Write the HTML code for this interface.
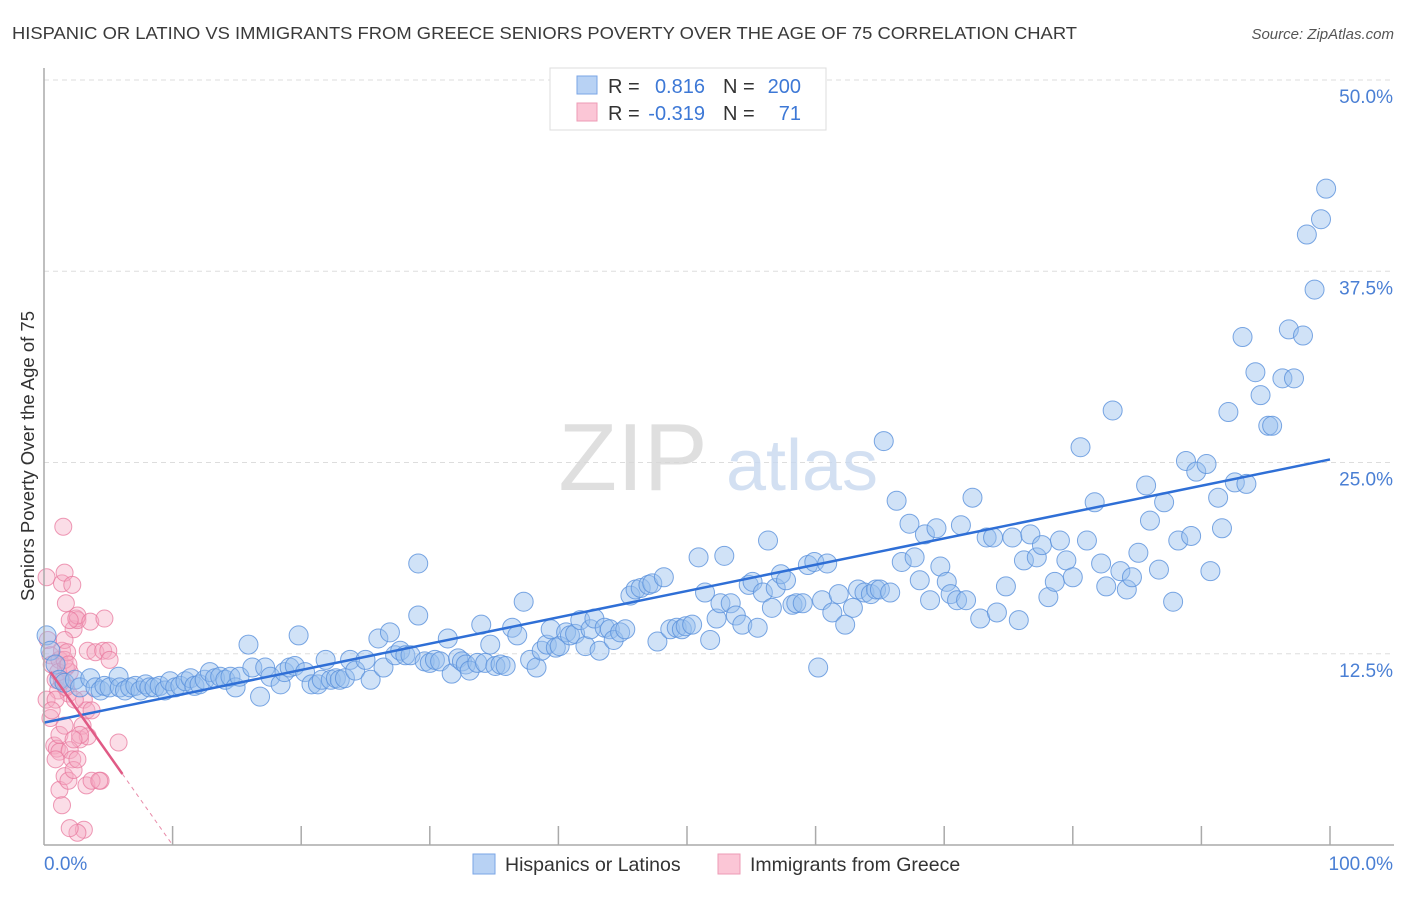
<!DOCTYPE html>
<html><head><meta charset="utf-8"><style>
body{margin:0;background:#fff;font-family:"Liberation Sans",sans-serif;}
svg text{font-family:"Liberation Sans",sans-serif;}
</style></head><body>
<svg id="chart" width="1406" height="892" viewBox="0 0 1406 892">
<text x="12" y="39" font-size="17.5" fill="#3a3a3a" textLength="1065" lengthAdjust="spacingAndGlyphs">HISPANIC OR LATINO VS IMMIGRANTS FROM GREECE SENIORS POVERTY OVER THE AGE OF 75 CORRELATION CHART</text>
<text x="1394" y="39" font-size="15" fill="#555" font-style="italic" text-anchor="end">Source: ZipAtlas.com</text>
<g id="grid"></g>
<g><text x="633" y="490" font-size="96" fill="#d8d8d8" font-family="Liberation Serif" text-anchor="middle" opacity="0.8">ZIP</text><text x="802" y="490" font-size="72" fill="#c9d9f0" text-anchor="middle" opacity="0.8">atlas</text></g>
<g id="pinkpts"></g>
<g id="bluepts"></g>
<g id="lines"></g>
<g id="axes"></g>
<text transform="translate(34,456) rotate(-90)" font-size="18.5" fill="#333" text-anchor="middle">Seniors Poverty Over the Age of 75</text>
<g>
<rect x="550" y="68" width="276" height="62" fill="#fff" stroke="#ddd"/>
<rect x="577" y="76" width="20" height="18" fill="#b8d2f4" stroke="#7aa5e6"/>
<rect x="577" y="103" width="20" height="18" fill="#fbc6d6" stroke="#ee9bb5"/>
<text x="608" y="93" font-size="20" fill="#333">R =</text><text x="705" y="93" font-size="20" fill="#3d78d6" text-anchor="end">0.816</text>
<text x="723" y="93" font-size="20" fill="#333">N =</text><text x="801" y="93" font-size="20" fill="#3d78d6" text-anchor="end">200</text>
<text x="608" y="120" font-size="20" fill="#333">R =</text><text x="705" y="120" font-size="20" fill="#3d78d6" text-anchor="end">-0.319</text>
<text x="723" y="120" font-size="20" fill="#333">N =</text><text x="801" y="120" font-size="20" fill="#3d78d6" text-anchor="end">71</text>
</g>
<g>
<rect x="473" y="854" width="22" height="20" fill="#b8d2f4" stroke="#7aa5e6"/>
<text x="505" y="871" font-size="19.5" fill="#333">Hispanics or Latinos</text>
<rect x="718" y="854" width="22" height="20" fill="#fbc6d6" stroke="#ee9bb5"/>
<text x="750" y="871" font-size="19.5" fill="#333">Immigrants from Greece</text>
</g>
</svg>
<script>
const blueX=[0.2,0.5,0.9,1.2,1.6,2.4,2.8,3.6,4.0,4.4,4.7,5.1,5.8,5.9,6.3,6.7,7.1,7.5,7.9,8.2,8.6,9.0,9.4,9.8,10.2,10.6,11.0,11.4,11.7,12.1,12.5,12.9,13.3,13.7,14.1,14.5,14.9,15.2,15.9,16.2,16.8,17.2,17.6,18.4,18.7,19.1,19.5,19.8,20.3,20.8,21.3,21.6,21.9,22.3,22.7,23.0,23.4,23.8,24.2,25.0,25.4,26.0,26.4,26.9,27.3,27.7,28.1,28.5,29.1,29.1,29.6,30.0,30.4,30.8,31.4,31.7,32.2,32.5,32.8,33.1,33.7,34.0,34.3,34.7,35.1,35.5,35.9,36.4,36.8,37.3,37.8,38.3,38.7,39.1,39.4,39.8,40.1,40.6,40.9,41.3,41.7,42.1,42.5,42.8,43.2,43.6,44.0,44.3,44.8,45.2,45.6,46.0,46.4,47.0,47.3,47.7,48.2,48.7,49.2,49.6,49.9,50.4,50.9,51.4,51.8,52.3,52.6,52.9,53.4,53.8,54.3,54.8,55.1,55.5,55.9,56.3,56.6,56.9,57.3,57.7,58.2,58.5,59.0,59.4,59.9,60.2,60.5,60.9,61.3,61.8,62.3,62.9,63.3,63.8,64.3,64.7,65.0,65.3,65.8,66.3,66.7,67.3,67.7,68.1,68.5,68.9,69.4,69.7,70.2,70.5,71.0,71.3,71.7,72.2,72.8,73.3,73.8,74.1,74.8,75.3,75.8,76.2,76.7,77.2,77.6,78.1,78.6,79.0,79.5,80.0,80.6,81.1,81.7,82.2,82.6,83.1,83.7,84.2,84.6,85.1,85.7,86.0,86.7,87.1,87.8,88.2,88.8,89.2,89.6,90.4,90.7,91.3,91.6,92.1,92.6,93.2,93.5,94.2,94.6,95.2,95.5,96.3,96.8,97.2,97.9,98.2,98.8,99.3,99.7];
const blueY=[13.7,12.7,11.8,10.8,10.6,10.8,10.3,10.9,10.3,10.1,10.4,10.3,11.0,10.3,10.1,10.3,10.4,10.1,10.5,10.3,10.3,10.4,10.1,10.7,10.3,10.4,10.7,10.9,10.4,10.5,10.8,11.3,10.9,11.0,10.8,11.0,10.3,11.0,13.1,11.6,9.7,11.6,11.0,10.5,11.3,11.6,11.7,13.7,11.3,10.5,10.5,10.8,12.1,10.8,10.9,10.8,10.9,12.1,11.4,12.1,10.8,13.5,11.6,13.9,12.4,12.7,12.4,12.4,18.4,15.0,12.0,11.9,12.1,12.0,13.5,11.2,12.2,12.0,11.8,11.4,11.9,14.4,11.9,13.1,11.7,11.8,11.7,14.2,13.7,15.9,12.1,11.6,12.7,13.1,14.1,12.9,13.0,13.9,13.7,13.8,14.7,13.0,14.1,14.8,12.7,14.2,14.1,13.4,13.9,14.1,16.3,16.7,16.8,17.0,17.1,13.3,17.5,14.1,14.2,14.1,14.3,14.4,18.8,16.5,13.4,14.8,15.8,18.9,15.8,15.0,14.4,17.0,17.2,14.2,16.5,19.9,15.5,16.8,17.7,17.3,15.7,15.8,15.8,18.3,18.5,11.6,16.0,18.4,15.2,16.4,14.4,15.5,16.7,16.5,16.4,16.7,16.7,26.4,16.5,22.5,18.5,21.0,18.8,17.3,20.3,16.0,20.7,18.2,17.2,16.4,16.0,20.9,16.0,22.7,14.8,20.1,20.1,15.2,16.9,20.1,14.7,18.6,20.3,18.8,19.6,16.2,17.2,19.9,18.6,17.5,26.0,19.9,22.4,18.4,16.9,28.4,17.9,16.7,17.5,19.1,23.5,21.2,18.0,22.4,15.9,19.9,25.1,20.2,24.4,24.9,17.9,22.7,20.7,28.3,23.7,33.2,23.6,30.9,29.4,27.4,27.4,30.5,33.7,30.5,33.3,39.9,36.3,40.9,42.9];
const pinkX=[0.2,0.3,0.5,0.6,0.9,1.1,0.2,0.5,0.8,1.0,1.2,1.4,1.5,1.6,1.7,2.0,2.2,2.3,2.5,2.6,2.8,3.0,3.1,3.3,3.4,1.2,1.4,1.6,1.7,1.9,0.9,0.6,1.2,1.4,1.6,1.9,2.0,2.2,2.3,2.6,2.8,3.3,3.4,3.6,3.7,4.0,4.4,4.6,4.7,5.0,5.1,5.8,2.4,2.0,1.7,1.1,1.4,1.6,1.8,1.9,3.1,2.6,1.2,2.0,3.7,4.3,0.9,1.6,2.3,2.6];
const pinkY=[17.5,13.4,12.4,11.8,10.8,10.1,9.5,8.3,6.5,6.3,6.1,17.1,20.8,17.8,15.8,11.3,17.0,14.1,14.8,14.7,6.9,7.8,9.5,8.8,7.1,12.1,12.7,13.4,11.6,9.9,9.5,8.8,3.6,2.6,4.5,4.2,6.2,5.6,4.9,15.0,7.2,3.9,12.7,14.6,8.8,12.6,4.2,12.7,14.8,12.7,12.1,6.7,9.5,14.7,10.3,11.3,10.7,12.1,12.6,11.8,1.0,0.8,7.2,1.1,4.2,4.2,5.6,7.8,6.9,5.6];
const yTicks=[12.5,25,37.5,50];
const yTickLabels=["12.5%","25.0%","37.5%","50.0%"];
const xTicks=[0,10,20,30,40,50,60,70,80,90,100];
const blueTrend=[8.0,25.2];
const pinkTrend=[11.9,0];
const pinkSolidEnd=6.1;

const NS="http://www.w3.org/2000/svg";
const X0=44,X1=1330,Y0=845,Y50=80;
const sx=v=>X0+(X1-X0)*v/100;
const sy=v=>Y0-(Y0-Y50)*v/50;
function mk(tag,attrs,parent){const e=document.createElementNS(NS,tag);for(const k in attrs)e.setAttribute(k,attrs[k]);parent.appendChild(e);return e;}
const grid=document.getElementById('grid');
yTicks.forEach((t,i)=>{
  const l=mk('line',{x1:X0,x2:1394,y1:sy(t),y2:sy(t),stroke:'#ddd','stroke-dasharray':'5,4'},grid);
  
  
  const tx=mk('text',{x:1393,y:sy(t)+23,'font-size':19,fill:'#4a7fd4','text-anchor':'end'},grid);
  tx.textContent=yTickLabels[i];
  
  
});
const axes=document.getElementById('axes');
mk('line',{x1:X0,x2:X0,y1:68,y2:Y0,stroke:'#aaa','stroke-width':1.5},axes);
mk('line',{x1:X0,x2:1394,y1:Y0,y2:Y0,stroke:'#aaa','stroke-width':1.5},axes);
xTicks.forEach(t=>{if(t>0){const l=mk('line',{x1:sx(t),x2:sx(t),y1:Y0-19,y2:Y0,stroke:'#aaa','stroke-width':1.5},axes);
  
  }});
const xl0=mk('text',{x:44,y:870,'font-size':19,fill:'#4a7fd4'},axes);xl0.textContent='0.0%';


const xl1=mk('text',{x:1393,y:870,'font-size':19,fill:'#4a7fd4','text-anchor':'end'},axes);xl1.textContent='100.0%';


const pg=document.getElementById('pinkpts');
pinkX.forEach((x,i)=>{const c=mk('circle',{cx:sx(x),cy:sy(pinkY[i]),r:8.5,fill:'rgba(246,170,196,0.4)',stroke:'rgba(232,120,158,0.75)','stroke-width':1},pg);
  
  });
const bg=document.getElementById('bluepts');
blueX.forEach((x,i)=>{const c=mk('circle',{cx:sx(x),cy:sy(blueY[i]),r:9.5,fill:'rgba(150,190,238,0.45)',stroke:'rgba(90,145,220,0.8)','stroke-width':1},bg);
  
  });
const lg=document.getElementById('lines');
const bl=mk('line',{x1:sx(0),y1:sy(blueTrend[0]),x2:sx(100),y2:sy(blueTrend[1]),stroke:'#2f6fd6','stroke-width':2.5},lg);


const pz=(pinkTrend[0]*10)/(pinkTrend[0]-pinkTrend[1]);
const pAt=x=>pinkTrend[0]+(pinkTrend[1]-pinkTrend[0])*x/10;
const pl=mk('line',{x1:sx(0.5),y1:sy(pAt(0.5)),x2:sx(pinkSolidEnd),y2:sy(pAt(pinkSolidEnd)),stroke:'#e05a85','stroke-width':2.5},lg);


const pd=mk('line',{x1:sx(pinkSolidEnd),y1:sy(pAt(pinkSolidEnd)),x2:sx(pz),y2:sy(0),stroke:'#e88aa8','stroke-width':1,'stroke-dasharray':'4,4'},lg);


</script>
</body></html>
